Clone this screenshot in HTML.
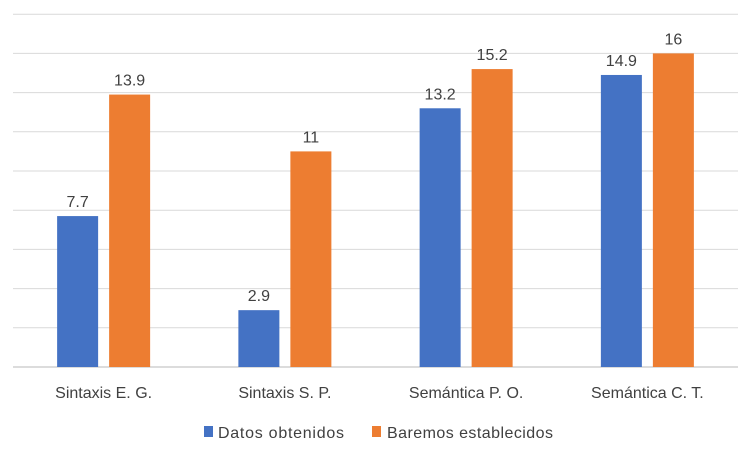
<!DOCTYPE html>
<html><head><meta charset="utf-8"><style>
body{margin:0;background:#fff;}
svg text{font-family:"Liberation Sans",sans-serif;fill:#404040;}
</style></head><body>
<svg width="742" height="451" id="c">
<g id="grid"></g><g id="bars"></g><g id="labels"></g>
<g>
<rect x="204" y="426" width="9" height="11" fill="#4472c4"/>
<text x="218" y="438" font-size="16" textLength="126">Datos obtenidos</text>
<rect x="372" y="426" width="9" height="11" fill="#ed7d31"/>
<text x="387" y="438" font-size="16" textLength="166">Baremos establecidos</text>
</g>
</svg>
<script>
const categories=["Sintaxis E. G.","Sintaxis S. P.","Semántica P. O.","Semántica C. T."];
const datos=[7.7,2.9,13.2,14.9];
const baremos=[13.9,11,15.2,16];
const ticks=[0,2,4,6,8,10,12,14,16,18];
const NS="http://www.w3.org/2000/svg";
const L=13,R=738,B=367,U=19.6;
const y=v=>B-v*U;
const cw=(R-L)/categories.length;
const cx=i=>L+cw*(i+0.5);
function mk(t,a,p){const e=document.createElementNS(NS,t);for(const k in a)e.setAttribute(k,a[k]);p.appendChild(e);return e;}
const g=document.getElementById('grid'),b=document.getElementById('bars'),lb=document.getElementById('labels');
ticks.forEach(t=>{const l=mk('line',{x1:L,x2:R,y1:y(t),y2:y(t),stroke:t===0?'#d0d0d0':'#d9d9d9','stroke-width':t===0?1.5:1},g);

});
const series=[[datos,'#4472c4',-26,'datos'],[baremos,'#ed7d31',26,'baremos']];
categories.forEach((c,i)=>{
 series.forEach(([arr,col,off,nm])=>{
  const v=arr[i];
  const r=mk('rect',{x:cx(i)+off-20.5,y:y(v),width:41,height:B-y(v),fill:col},b);
  
  
  const t=mk('text',{x:cx(i)+off,y:y(v)-9,'text-anchor':'middle','font-size':16},lb);
  t.textContent=String(v);
  
  
 });
 const t=mk('text',{x:cx(i),y:398,'text-anchor':'middle','font-size':16},lb);
 t.textContent=c;
 
 
});
</script>
</body></html>
